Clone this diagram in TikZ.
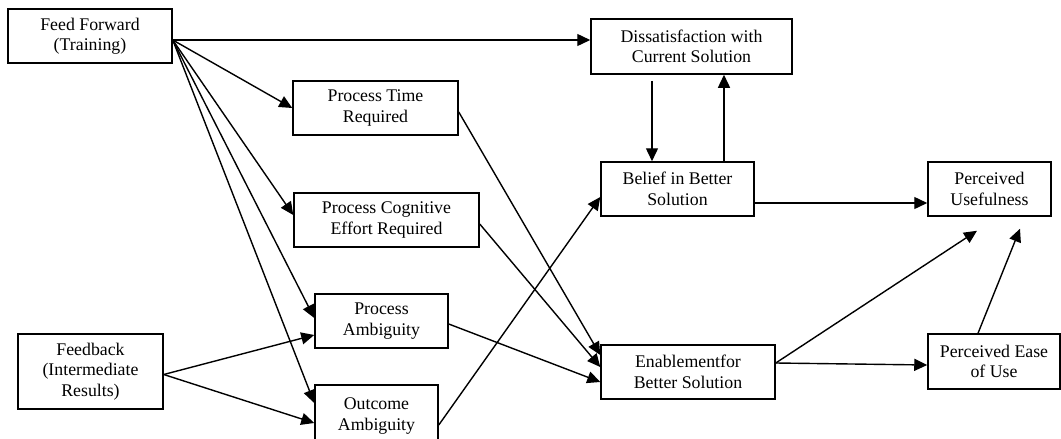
\documentclass[tikz,border=0pt]{standalone}
\usepackage{fontspec}
\setmainfont{Liberation Serif}
\usetikzlibrary{arrows.meta}

\begin{document}
\begin{tikzpicture}[x=1pt,y=-1pt,
    box/.style={draw,line width=1.5pt,inner sep=0pt,align=center,minimum height=54pt,
      font=\fontsize{17.8}{20.5}\selectfont},
    link/.style={line width=1.4pt,-{Triangle[length=13pt,width=12pt]}}]
    \useasboundingbox (0,0) rectangle (1061,439);
    \clip (0,0) rectangle (1061,439);
    % sources
    \node[box,minimum width=164pt] (ff) at (90,36) {Feed Forward\\(Training)};
    \node[box,minimum width=145pt,minimum height=75pt] (fb) at (90.5,371.5) {Feedback\\(Intermediate\\Results)};
    % process
    \node[box,minimum width=165pt] (ptr) at (375.5,108) {Process Time\\Required};
    \node[box,minimum width=185pt] (pce) at (386.5,220) {Process Cognitive\\Effort Required};
    \node[box,minimum width=133pt] (pa) at (381.5,321) {Process\\Ambiguity};
    \node[box,minimum width=123pt,minimum height=62pt] (oa) at (376.5,416) {Outcome\\Ambiguity};
    % solution
    \node[box,minimum width=201pt,minimum height=55pt] (dis) at (691.5,46.5) {Dissatisfaction with\\Current Solution};
    \node[box,minimum width=153pt] (bel) at (677.5,189) {Belief in Better\\Solution};
    \node[box,minimum width=174pt] (ena) at (688,372) {Enablementfor\\Better Solution};
    % outcomes
    \node[box,minimum width=123pt] (pu) at (989.5,189) {Perceived\\Usefulness};
    \node[box,minimum width=132pt,minimum height=55pt] (peu) at (994,361.5) {Perceived Ease\\of Use};

    \coordinate (ffo) at ([yshift=-4pt]ff.east);
    \coordinate (fbo) at ([yshift=-3pt]fb.east);
    \coordinate (enao) at ([yshift=9pt]ena.east);

    \draw[link] (ffo) -- (ffo -| dis.west);
    \draw[link] (ffo) -- (ptr.west);
    \draw[link] (ffo) -- ([yshift=5pt]pce.west);
    \draw[link] (ffo) -- ([yshift=3pt]pa.west);
    \draw[link] (ffo) -- ([yshift=13pt]oa.west);
    \draw[link] (fbo) -- ([yshift=-14pt]pa.west);
    \draw[link] (fbo) -- ([yshift=-7pt]oa.west);

    \draw[link] ([yshift=-4pt]ptr.east) -- ([yshift=17pt]ena.west);
    \draw[link] ([yshift=-4pt]pce.east) -- ([yshift=5pt]ena.west);
    \draw[link] ([yshift=-3pt]pa.east) -- ([yshift=-10pt]ena.west);
    \draw[link] ([yshift=-9pt]oa.east) -- ([yshift=-8pt]bel.west);

    \draw[link] ([xshift=-39.5pt,yshift=-6pt]dis.south) -- ([xshift=-25.5pt]bel.north);
    \draw[link] ([xshift=46.5pt]bel.north) -- ([xshift=32.5pt]dis.south);

    \draw[link] ([yshift=-14pt]bel.east) -- ([yshift=-14pt]pu.west);
    \draw[link] (enao) -- ([xshift=-12.5pt,yshift=-14pt]pu.south);
    \draw[link] (enao) -- ([yshift=-3.5pt]peu.west);
    \draw[link] ([xshift=-16pt]peu.north) -- ([xshift=30.5pt,yshift=-12pt]pu.south);
  \end{tikzpicture}
\end{document}
